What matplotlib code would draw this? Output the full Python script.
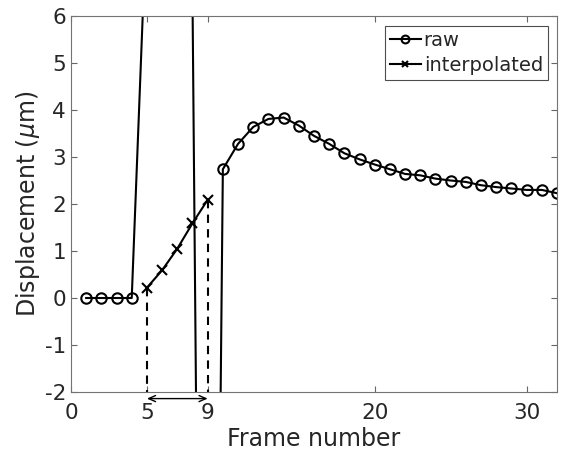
import matplotlib
matplotlib.use("Agg")
import matplotlib.pyplot as plt
import numpy as np

plt.rcParams['axes.unicode_minus'] = False

# raw displacement per frame (frames 5-9 are corrupted, mostly off-scale)
frames_raw = list(range(1, 33))
disp_raw = [0, 0, 0, 0, 8.3, 10.5, 9.0, 6.4, -30.0,
            2.74, 3.28, 3.64, 3.81, 3.84, 3.67, 3.45, 3.28, 3.08, 2.95,
            2.84, 2.74, 2.64, 2.61, 2.54, 2.50, 2.47, 2.40, 2.36, 2.33,
            2.30, 2.30, 2.23]

# interpolated frames 5..9
frames_interp = [5, 6, 7, 8, 9]
disp_interp = [0.22, 0.59, 1.05, 1.59, 2.09]

xticks = [0, 5, 9, 20, 30]
yticks = [-2, -1, 0, 1, 2, 3, 4, 5, 6]

txt = '0.15'

fig = plt.figure(figsize=(5.66, 4.51), dpi=100)
ax = fig.add_axes([0.1254, 0.1308, 0.8587, 0.8337])

ax.plot(frames_raw, disp_raw, '-o', color='k', lw=1.5, ms=7.5,
        mfc='none', mew=1.5, label='raw')
ax.plot(frames_interp, disp_interp, '-x', color='k', lw=1.5, ms=6.5,
        mew=1.5, label='interpolated')

# dashed guides from the interpolation ends to the bottom axis
for fx, fy in [(frames_interp[0], disp_interp[0]),
               (frames_interp[-1], disp_interp[-1])]:
    ax.plot([fx, fx], [fy, -2], '--', color='k', lw=1.5, dashes=(4, 3))

ax.annotate('', xy=(frames_interp[-1], -2.14), xytext=(frames_interp[0], -2.14),
            xycoords='data', annotation_clip=False,
            arrowprops=dict(arrowstyle='<->,head_length=0.5,head_width=0.22',
                            color='k', lw=1.0, shrinkA=0, shrinkB=0))

ax.set_xlim(0, 32)
ax.set_ylim(-2, 6)
ax.set_xticks(xticks)
ax.set_yticks(yticks)
ax.tick_params(direction='in', top=True, right=True, labelsize=15.5,
               color='0.4', length=4, labelcolor=txt)
ax.tick_params(axis='x', pad=8)
for sp in ax.spines.values():
    sp.set_color('0.45')
    sp.set_linewidth(0.8)

ax.set_xlabel('Frame number', fontsize=17, labelpad=3, color=txt)
ax.set_ylabel(r'Displacement ($\mu$m)', fontsize=17, labelpad=2, color=txt)

leg = ax.legend(loc='upper right', bbox_to_anchor=(0.981, 0.973),
                fontsize=14, handlelength=1.6, handletextpad=0.15,
                borderpad=0.25, labelspacing=0.3, borderaxespad=0,
                fancybox=False, framealpha=1, markerscale=0.75)
leg.get_frame().set_edgecolor('0.3')
leg.get_frame().set_linewidth(0.8)
for t in leg.get_texts():
    t.set_color(txt)

fig.savefig('out.png', dpi=100)
